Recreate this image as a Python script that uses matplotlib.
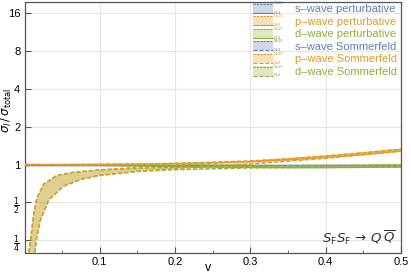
import matplotlib

matplotlib.use("Agg")
import matplotlib.pyplot as plt  # noqa: E402
from matplotlib.patches import Rectangle  # noqa: E402

plt.rcParams["font.family"] = ["Liberation Sans", "DejaVu Sans"]
plt.rcParams["mathtext.fontset"] = "dejavusans"

BLUE = "#5E81B5"
ORANGE = "#E19C24"
GREEN = "#8FB032"

# s-wave: flat at 1 (hidden under the others)
v_s = [0.0, 0.5]
s_pert_hi = [1.0, 1.0]
s_pert_lo = [1.0, 1.0]

# p-wave perturbative band (N=10 upper, N=4 lower)
v_pert = [0.0, 0.05, 0.1, 0.15, 0.2, 0.25, 0.3, 0.35, 0.4, 0.45, 0.5]
p_pert_hi = [1.0, 1.0, 1.005, 1.012, 1.025, 1.045, 1.07, 1.11, 1.17, 1.24, 1.33]
p_pert_lo = [1.0, 1.0, 1.003, 1.008, 1.018, 1.035, 1.055, 1.09, 1.14, 1.2, 1.28]

# d-wave perturbative band
d_pert_hi = [1.0, 1.0, 1.0, 0.995, 0.99, 0.985, 0.98, 0.98, 0.985, 0.99, 1.0]
d_pert_lo = [1.0, 0.995, 0.985, 0.975, 0.965, 0.955, 0.95, 0.945, 0.945, 0.95, 0.955]

# Sommerfeld bands: upper (N=10) and lower (N=4) edges
v_som_hi = [0.0055, 0.008, 0.0123, 0.0167, 0.0255, 0.043, 0.066, 0.1, 0.15, 0.2, 0.3, 0.4, 0.5]
d_som_hi = [0.2, 0.25, 0.41, 0.55, 0.7, 0.82, 0.87, 0.905, 0.935, 0.95, 0.97, 0.98, 0.985]
p_som_hi = [0.2, 0.25, 0.41, 0.55, 0.7, 0.82, 0.87, 0.91, 0.95, 0.99, 1.06, 1.17, 1.32]

v_som_lo = [0.014, 0.0155, 0.021, 0.032, 0.051, 0.074, 0.1, 0.15, 0.2, 0.3, 0.4, 0.5]
d_som_lo = [0.2, 0.25, 0.36, 0.52, 0.67, 0.76, 0.82, 0.88, 0.91, 0.94, 0.95, 0.955]
p_som_lo = [0.2, 0.25, 0.36, 0.52, 0.67, 0.76, 0.82, 0.885, 0.93, 1.01, 1.12, 1.28]

y_ticks = [0.25, 0.5, 1, 2, 4, 8, 16]
y_labels = [r"$\frac{1}{4}$", r"$\frac{1}{2}$", "1", "2", "4", "8", "16"]
x_ticks = [0.1, 0.2, 0.3, 0.4, 0.5]

legend_entries = [
    ("s\u2013wave perturbative", BLUE, "-"),
    ("p\u2013wave perturbative", ORANGE, "-"),
    ("d\u2013wave perturbative", GREEN, "-"),
    ("s\u2013wave Sommerfeld", BLUE, "--"),
    ("p\u2013wave Sommerfeld", ORANGE, "--"),
    ("d\u2013wave Sommerfeld", GREEN, "--"),
]


def band(ax, xh, yh, xl, yl, color, lo_style):
    xs = list(xh) + list(xl)[::-1]
    ys = list(yh) + list(yl)[::-1]
    ax.fill(xs, ys, color=color, alpha=0.3, lw=0, zorder=2)
    ax.plot(xh, yh, color=color, lw=1.0, ls=(0, (3, 1.5)), zorder=3)
    ax.plot(xl, yl, color=color, lw=1.0, ls=lo_style, zorder=3)


fig = plt.figure(figsize=(4.11, 2.76), dpi=100)
ax = fig.add_axes([24.5 / 411, 1 - 252.5 / 276, (401 - 24.5) / 411, (252.5 - 2) / 276])

band(ax, v_s, s_pert_hi, v_s, s_pert_lo, BLUE, "-")
band(ax, v_som_hi, d_som_hi, v_som_lo, d_som_lo, GREEN, (0, (3, 1.5)))
band(ax, v_som_hi, p_som_hi, v_som_lo, p_som_lo, ORANGE, (0, (3, 1.5)))
band(ax, v_pert, d_pert_hi, v_pert, d_pert_lo, GREEN, "-")
band(ax, v_pert, p_pert_hi, v_pert, p_pert_lo, ORANGE, "-")

ax.set_yscale("log", base=2)
ax.set_xlim(0, 0.5)
ax.set_ylim(0.2, 19.6)
ax.set_yticks(y_ticks)
ax.set_yticklabels(y_labels)
ax.yaxis.set_minor_locator(matplotlib.ticker.NullLocator())
ax.set_xticks(x_ticks)
ax.set_xticks([0.05, 0.15, 0.25, 0.35, 0.45], minor=True)
ax.tick_params(direction="in", length=4, width=0.8, color="#555555", labelsize=8, pad=3)
ax.tick_params(which="minor", direction="in", length=2.5, width=0.6, color="#555555")
ax.grid(True, color="#E6E6E6", lw=0.8, zorder=0)
for s in ax.spines.values():
    s.set_color("#555555")
    s.set_linewidth(0.9)

ax.set_xlabel("v", fontsize=9)
ax.xaxis.set_label_coords((208 - 24.5) / 376.5, -(268 - 252.5) / 250.5, transform=ax.transAxes)
ax.xaxis.label.set_va("center")
ax.set_ylabel(r"$\sigma_l\,/\,\sigma_{\rm total}$", fontsize=8.5)
ax.yaxis.set_label_coords(-(24.5 - 6.5) / 376.5, 1 - (110 - 2) / 250.5, transform=ax.transAxes)
ax.yaxis.label.set_va("center")

ax.text(0.985, 0.02, r"$S_{\rm F}S_{\rm F}\,\to\,Q\,\overline{Q}$", transform=ax.transAxes,
        ha="right", va="bottom", fontsize=9.5, color="#333333")

# hand-made legend with band swatches
trans = fig.transFigure
for i, (label, color, ls) in enumerate(legend_entries):
    yc = 8 + i * 12.6
    x0, x1 = 253 / 411, 273 / 411
    y0, y1 = 1 - (yc + 4.5) / 276, 1 - (yc - 4.5) / 276
    fig.patches.append(Rectangle((x0, y0), x1 - x0, y1 - y0, transform=trans,
                                 facecolor=color, alpha=0.3, lw=0, zorder=5))
    fig.add_artist(plt.Line2D([x0, x1], [y1, y1], transform=trans, color=color, lw=0.8,
                              ls=(0, (2, 1)), zorder=6))
    fig.add_artist(plt.Line2D([x0, x1], [y0, y0], transform=trans, color=color, lw=0.8,
                              ls=ls, zorder=6))
    fig.text(274 / 411, y1, "N=10", fontsize=2.8, color=color, va="center", ha="left")
    fig.text(274 / 411, y0, "N=4", fontsize=2.8, color=color, va="center", ha="left")
    fig.text(295 / 411, 1 - (yc + 1) / 276, label, fontsize=8.0, color=color,
             va="center", ha="left")

plt.savefig("out.png", dpi=100)
